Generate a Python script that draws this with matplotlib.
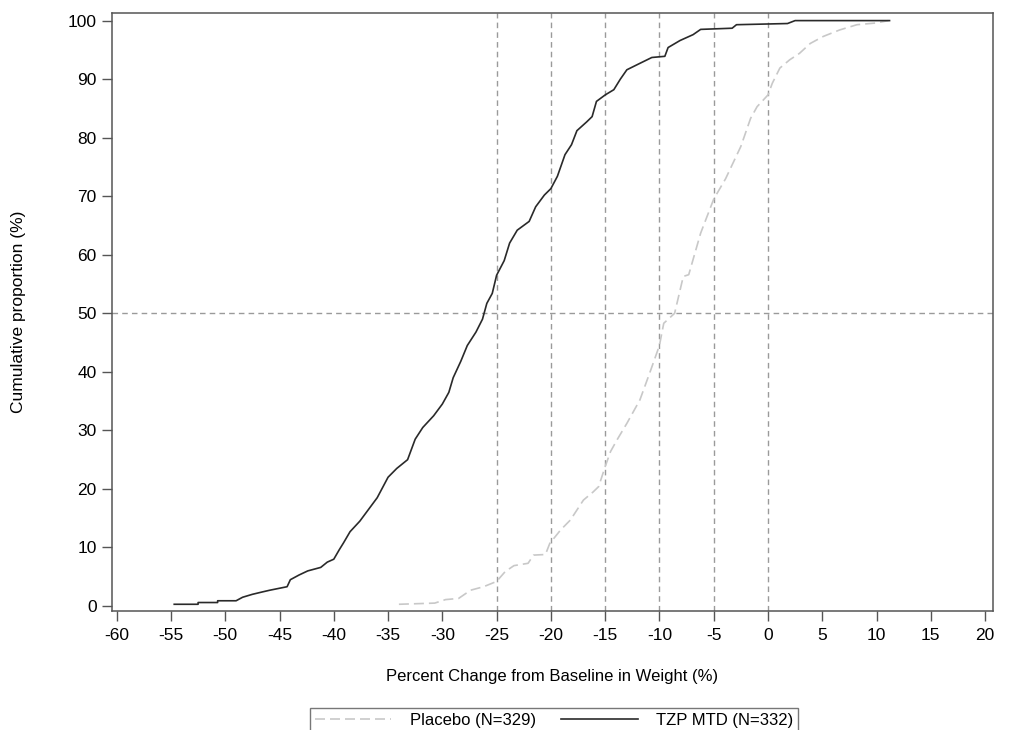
import matplotlib
matplotlib.use("Agg")
import matplotlib.pyplot as plt

plt.rcParams['font.family'] = ['Liberation Sans', 'DejaVu Sans']
plt.rcParams['axes.unicode_minus'] = False

# cumulative curves (x = % change, y = cumulative %)
tzp_x = [-54.7, -52.5, -52.5, -50.7, -50.7, -49.0, -48.4, -47.5, -46.6, -45.9,
         -45.1, -44.3, -44.0, -43.2, -42.4, -41.2, -40.6, -40.0, -39.5, -39.1,
         -38.5, -38.0, -37.6, -36.8, -36.0, -35.0, -34.2, -33.2, -32.5, -31.8,
         -30.8, -30.0, -29.4, -29.0, -28.3, -27.7, -26.9, -26.3, -25.9, -25.4,
         -25.0, -24.3, -23.8, -23.1, -22.0, -21.4, -20.6, -20.0, -19.4, -18.7,
         -18.1, -17.6, -16.7, -16.2, -15.8, -15.0, -14.2, -13.6, -13.0, -11.8,
         -10.7, -9.5, -9.2, -8.1, -6.9, -6.2, -3.3, -2.9, 1.8, 2.5, 11.2]
tzp_y = [0.3, 0.3, 0.6, 0.6, 0.9, 0.9, 1.5, 2.0, 2.4, 2.7,
         3.0, 3.3, 4.5, 5.3, 6.0, 6.6, 7.5, 8.0, 9.6, 10.8,
         12.7, 13.7, 14.5, 16.5, 18.5, 22.0, 23.5, 25.0, 28.5, 30.5,
         32.5, 34.5, 36.5, 39.0, 41.8, 44.5, 46.8, 49.0, 51.7, 53.4,
         56.5, 59.0, 62.0, 64.2, 65.7, 68.2, 70.2, 71.3, 73.4, 77.1,
         78.8, 81.2, 82.7, 83.6, 86.2, 87.3, 88.2, 90.0, 91.6, 92.7,
         93.7, 93.9, 95.4, 96.6, 97.6, 98.5, 98.7, 99.3, 99.5, 100.0, 100.0]

pbo_x = [-34.0, -30.7, -29.7, -28.5, -27.4, -26.2, -25.0, -24.2, -23.4, -22.1,
         -21.6, -20.5, -20.1, -19.1, -18.2, -17.6, -17.0, -16.1, -15.6, -15.0,
         -14.5, -13.9, -13.0, -11.8, -10.8, -10.0, -9.6, -8.6, -7.8, -7.3,
         -6.2, -5.0, -3.9, -2.5, -1.6, -1.0, 0.0, 0.4, 1.1, 2.0,
         2.9, 3.9, 5.1, 6.6, 8.2, 10.0, 11.1]
pbo_y = [0.3, 0.5, 1.1, 1.3, 2.7, 3.3, 4.2, 5.9, 6.9, 7.3,
         8.7, 8.8, 10.7, 13.0, 14.7, 16.4, 18.1, 19.5, 20.4, 23.8,
         26.4, 28.4, 31.2, 35.2, 40.3, 44.5, 48.3, 50.0, 56.3, 56.6,
         63.7, 69.5, 73.0, 78.5, 83.3, 85.3, 87.3, 89.3, 91.9, 93.3,
         94.4, 96.1, 97.3, 98.4, 99.3, 99.6, 100.0]

x_ticks = list(range(-60, 25, 5))
y_ticks = list(range(0, 110, 10))
ref_x = [-25, -20, -15, -10, -5, 0]
ref_y = 50

fig = plt.figure(figsize=(10.09, 7.30), dpi=100)
ax = fig.add_axes([0.1107, 0.1630, 0.8732, 0.8192])

# reference lines
for xv in ref_x:
    ax.axvline(xv, color='#9a9a9a', lw=1.0, dashes=(4, 3), zorder=1)
ax.axhline(ref_y, color='#9a9a9a', lw=1.0, dashes=(4, 3), zorder=1)

ax.plot(pbo_x, pbo_y, color='#c8c8c8', lw=1.2, dashes=(6, 3),
        label='Placebo (N=329)', zorder=2)
ax.plot(tzp_x, tzp_y, color='#2a2a2a', lw=1.2,
        label='TZP MTD (N=332)', zorder=3)

ax.set_xlim(-60.46, 20.71)
ax.set_ylim(-0.85, 101.3)
ax.set_xticks(x_ticks)
ax.set_xticklabels([str(v) for v in x_ticks])
ax.set_yticks(y_ticks)
ax.set_yticklabels([str(v) for v in y_ticks])
ax.tick_params(axis='both', direction='out', length=7.2, width=1.0,
               color='#555555', labelsize=12.5, labelcolor='black')
ax.tick_params(axis='x', pad=5)
ax.tick_params(axis='y', pad=3.5)
for s in ax.spines.values():
    s.set_color('#555555')
    s.set_linewidth(1.1)

ax.set_xlabel('Percent Change from Baseline in Weight (%)', fontsize=12)
ax.xaxis.set_label_coords(0.5, -0.097)
ax.set_ylabel('Cumulative proportion (%)', fontsize=12.5)
ax.yaxis.set_label_coords(-0.097, 0.5)

leg = fig.legend(loc='upper center', bbox_to_anchor=(0.549, 1 - 708 / 730),
                 ncol=2, fontsize=12, frameon=True, fancybox=False,
                 handlelength=4.6, handletextpad=1.1, columnspacing=1.5,
                 borderaxespad=0, borderpad=0.3)
leg.get_frame().set_edgecolor('#555555')
leg.get_frame().set_linewidth(1.0)

fig.savefig('out.png', dpi=100)
